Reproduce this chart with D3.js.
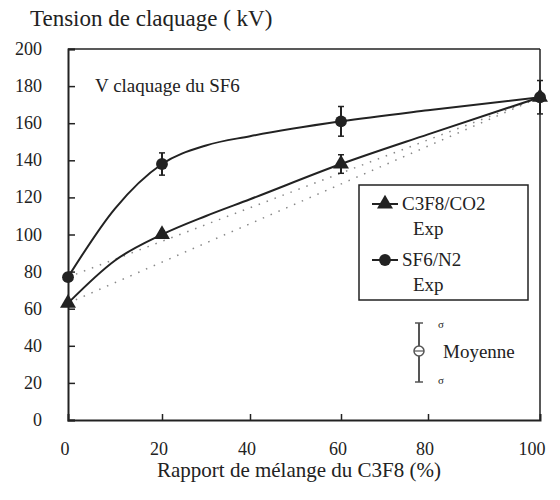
<!DOCTYPE html>
<html><head><meta charset="utf-8">
<script src="https://cdn.jsdelivr.net/npm/d3@7"></script>
<style>body{margin:0;background:#fff}svg{display:block}</style>
</head><body><svg id="c" width="560" height="500"></svg>
<script>
// ---- data ----
const xTicks = [0, 20, 40, 60, 80, 100];
const xTickLabels = ["0", "20", "40", "60", "80", "100"];
const yTicks = [0, 20, 40, 60, 80, 100, 120, 140, 160, 180, 200];
const mixRatio = [0, 20, 60, 100];
const c3f8Co2 = [63, 100, 138, 174];
const c3f8Err = [0, 2, 5, 0];
const sf6N2 = [77, 138, 161, 174];
const sf6Err = [0, 6, 8, 9];
// smooth curve shape
const curveX = [0, 10, 20, 30, 40, 60, 80, 100];
const c3f8Curve = [63, 86, 100, 110, 119, 138, 154, 174];
const sf6Curve = [77, 114, 138, 148, 153, 161, 167, 174];
const legendNames = ["C3F8/CO2", "SF6/N2"];

const FONT = "Liberation Serif";
const svg = d3.select("#c");
const L = 68, R = 540, T = 49, B = 420;
// the scanned original's x axis is slightly uneven; follow its tick positions
const x = d3.scaleLinear().domain(xTicks).range([L, 162, 250, 341, 428, R]);
const y = d3.scaleLinear().domain([0, 200]).range([B, T]);
const ink = "#222";
function txt(sel) { return sel.attr("font-family", FONT).attr("fill", ink); }

// frame
svg.append("line").attr("x1", L).attr("x2", R).attr("y1", T).attr("y2", T).attr("stroke", ink).attr("stroke-width", 1.5);
svg.append("line").attr("x1", R).attr("x2", R).attr("y1", T).attr("y2", B).attr("stroke", ink).attr("stroke-width", 1.5);

// axes
const yAxis = d3.axisRight(y).tickValues(yTicks).tickSize(7).tickFormat("");
const gy = svg.append("g").attr("transform", `translate(${L},0)`).call(yAxis);
gy.select(".domain").attr("stroke", ink).attr("stroke-width", 2);
gy.selectAll(".tick line").attr("stroke", ink).attr("stroke-width", 1.5);
txt(svg.selectAll(".ylab").data(yTicks).join("text").attr("class", "ylab")
  .attr("x", 42).attr("y", d => y(d) + 6).attr("text-anchor", "end")
  .attr("font-size", 18).text(d => d));

const xAxis = d3.axisTop(x).tickValues(xTicks.slice(1, -1)).tickSize(6).tickFormat("");
const gx = svg.append("g").attr("transform", `translate(0,${B})`).call(xAxis);
gx.select(".domain").attr("stroke", ink).attr("stroke-width", 2);
gx.selectAll(".tick line").attr("stroke", ink).attr("stroke-width", 1.5);
txt(svg.selectAll(".xlab").data(xTicks).join("text").attr("class", "xlab")
  .attr("x", (d, i) => x(d) - (i === 5 ? 8 : 3)).attr("y", 455).attr("text-anchor", "middle")
  .attr("font-size", 18).text((d, i) => xTickLabels[i]));

// titles
txt(svg.append("text").attr("x", 30).attr("y", 26).attr("font-size", 23).text("Tension de claquage ( kV)"));
txt(svg.append("text").attr("x", 299).attr("y", 477).attr("text-anchor", "middle").attr("font-size", 21).text("Rapport de mélange du C3F8 (%)"));
txt(svg.append("text").attr("x", 95).attr("y", 92).attr("font-size", 19).text("V claquage du SF6"));

// dotted straight references
[c3f8Co2, sf6N2].forEach(s => {
  svg.append("line").attr("x1", x(mixRatio[0])).attr("y1", y(s[0]))
    .attr("x2", x(mixRatio[3])).attr("y2", y(s[3]))
    .attr("stroke", "#888").attr("stroke-width", 1.5).attr("stroke-dasharray", "1.5,7");
});

// curves
const line = d3.line().x(d => x(d[0])).y(d => y(d[1])).curve(d3.curveMonotoneX);
[c3f8Curve, sf6Curve].forEach(s => {
  svg.append("path").attr("d", line(curveX.map((v, i) => [v, s[i]])))
    .attr("fill", "none").attr("stroke", ink).attr("stroke-width", 2);
});

// error bars
function errBars(vals, errs) {
  mixRatio.forEach((m, i) => {
    if (!errs[i]) return;
    const cx = x(m);
    svg.append("line").attr("x1", cx).attr("x2", cx).attr("y1", y(vals[i] - errs[i])).attr("y2", y(vals[i] + errs[i])).attr("stroke", ink).attr("stroke-width", 2);
    [vals[i] - errs[i], vals[i] + errs[i]].forEach(v => svg.append("line").attr("x1", cx - 3).attr("x2", cx + 3).attr("y1", y(v)).attr("y2", y(v)).attr("stroke", ink).attr("stroke-width", 1.5));
  });
}
errBars(c3f8Co2, c3f8Err);
errBars(sf6N2, sf6Err);

// markers
const tri = d3.symbol().type(d3.symbolTriangle).size(110);
const circ = d3.symbol().type(d3.symbolCircle).size(110);
svg.selectAll(".tri").data(mixRatio).join("path").attr("class", "tri")
  .attr("transform", (d, i) => `translate(${x(d)},${y(c3f8Co2[i])})`).attr("d", tri).attr("fill", ink);
svg.selectAll(".cir").data(mixRatio).join("path").attr("class", "cir")
  .attr("transform", (d, i) => `translate(${x(d)},${y(sf6N2[i])})`).attr("d", circ).attr("fill", ink);

// legend
const lg = svg.append("g");
lg.append("rect").attr("x", 359).attr("y", 185).attr("width", 169).attr("height", 115).attr("fill", "#fff").attr("stroke", ink).attr("stroke-width", 1.5);
const legY = [204, 260];
legendNames.forEach((n, i) => {
  lg.append("line").attr("x1", 372).attr("x2", 398).attr("y1", legY[i]).attr("y2", legY[i]).attr("stroke", ink).attr("stroke-width", 2);
  lg.append("path").attr("transform", `translate(385,${legY[i]})`).attr("d", i === 0 ? tri : circ).attr("fill", ink);
  txt(lg.append("text").attr("x", 402).attr("y", legY[i] + 6).attr("font-size", 19).text(n));
  txt(lg.append("text").attr("x", 413).attr("y", legY[i] + 31).attr("font-size", 19).text("Exp"));
});

// "Moyenne" key
const mk = svg.append("g");
mk.append("line").attr("x1", 419).attr("x2", 419).attr("y1", 323).attr("y2", 382).attr("stroke", "#555").attr("stroke-width", 2);
[323, 382].forEach(v => mk.append("line").attr("x1", 415).attr("x2", 423).attr("y1", v).attr("y2", v).attr("stroke", "#555").attr("stroke-width", 1.5));
mk.append("circle").attr("cx", 419).attr("cy", 351).attr("r", 5).attr("fill", "#fff").attr("stroke", "#555").attr("stroke-width", 1.5);
mk.append("line").attr("x1", 414).attr("x2", 424).attr("y1", 351).attr("y2", 351).attr("stroke", "#555").attr("stroke-width", 1.2);
txt(mk.append("text").attr("x", 438).attr("y", 328).attr("font-size", 11).text("σ"));
txt(mk.append("text").attr("x", 438).attr("y", 384).attr("font-size", 11).text("σ"));
txt(mk.append("text").attr("x", 443).attr("y", 358).attr("font-size", 19).text("Moyenne"));
</script></body></html>
